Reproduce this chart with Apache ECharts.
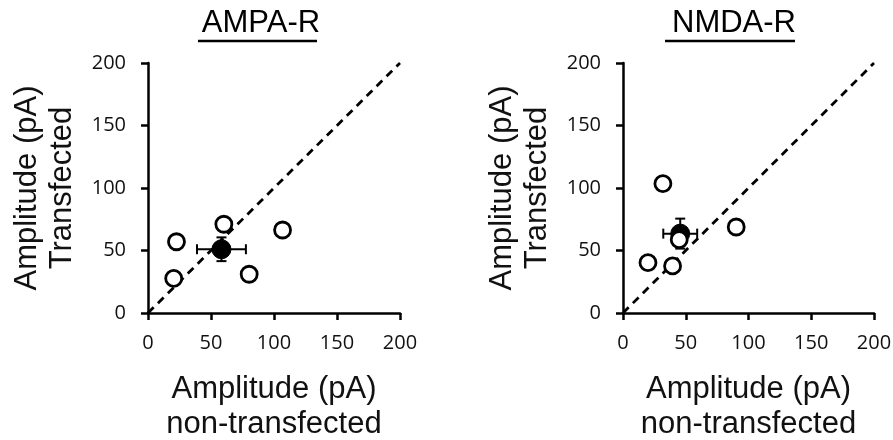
<!DOCTYPE html>
<html><head><meta charset="utf-8">
<script src="https://cdn.jsdelivr.net/npm/echarts@6/dist/echarts.min.js"></script>
<style>html,body{margin:0;padding:0;background:#fff}#c{width:893px;height:440px}</style>
</head><body><div id="c"></div>
<script>
// Data
const titles = ['AMPA-R', 'NMDA-R'];
const ampaPoints = [[22.6, 57], [20.4, 27.7], [60.2, 71], [106.8, 66.4], [80.3, 31]];
const ampaMean = [58.3, 51];
const ampaErr = [19.4, 9.5];
const nmdaPoints = [[31.8, 103.5], [19.9, 40.3], [39.5, 37.7], [44.8, 58.7], [90.2, 68.8]];
const nmdaMean = [45.6, 63.5];
const nmdaErr = [13.5, 12];
const identityLine = [[0, 0], [200, 200]];
const xName = 'Amplitude (pA)\nnon-transfected';
const yName = 'Amplitude (pA)\nTransfected';

const chart = echarts.init(document.getElementById('c'));
const tickFont = '"Open Sans", Lato, sans-serif';
const nameFont = '"Liberation Sans", Arial, sans-serif';

function xAxis(gi) {
  return {
    gridIndex: gi, type: 'value', min: 0, max: 200, interval: 50,
    name: xName, nameLocation: 'middle', nameGap: 59,
    nameTextStyle: {fontFamily: nameFont, fontSize: 31, color: '#111', lineHeight: 35},
    axisLine: {show: true, lineStyle: {color: '#000', width: 2.5}},
    axisTick: {show: true, inside: false, length: 7, lineStyle: {color: '#000', width: 2.5}},
    axisLabel: {fontFamily: tickFont, fontSize: 20, color: '#111', margin: 20},
    splitLine: {show: false}
  };
}
function yAxis(gi) {
  return {
    gridIndex: gi, type: 'value', min: 0, max: 200, interval: 50,
    name: yName, nameLocation: 'middle', nameGap: 68, nameRotate: 90,
    nameTextStyle: {fontFamily: nameFont, fontSize: 31, color: '#111', lineHeight: 35},
    axisLine: {show: true, lineStyle: {color: '#000', width: 2.5}},
    axisTick: {show: true, inside: false, length: 7, lineStyle: {color: '#000', width: 2.5}},
    axisLabel: {fontFamily: tickFont, fontSize: 20, color: '#111', margin: 22},
    splitLine: {show: false}
  };
}

function errSeries(gi, mean, err) {
  return {
    type: 'custom', xAxisIndex: gi, yAxisIndex: gi, z: 6,
    data: [[mean[0], mean[1], err[0], err[1]]],
    renderItem: function (params, api) {
      const x = api.value(0), y = api.value(1), ex = api.value(2), ey = api.value(3);
      const l = api.coord([x - ex, y]), r = api.coord([x + ex, y]);
      const t = api.coord([x, y + ey]), b = api.coord([x, y - ey]);
      const c = 5;
      const st = {stroke: '#000', lineWidth: 2};
      return {type: 'group', children: [
        {type: 'line', shape: {x1: l[0], y1: l[1], x2: r[0], y2: r[1]}, style: st},
        {type: 'line', shape: {x1: l[0], y1: l[1] - c, x2: l[0], y2: l[1] + c}, style: st},
        {type: 'line', shape: {x1: r[0], y1: r[1] - c, x2: r[0], y2: r[1] + c}, style: st},
        {type: 'line', shape: {x1: t[0], y1: t[1], x2: b[0], y2: b[1]}, style: st},
        {type: 'line', shape: {x1: t[0] - c, y1: t[1], x2: t[0] + c, y2: t[1]}, style: st},
        {type: 'line', shape: {x1: b[0] - c, y1: b[1], x2: b[0] + c, y2: b[1]}, style: st}
      ]};
    }
  };
}

function panelSeries(gi, pts, mean, err) {
  return [
    {type: 'line', xAxisIndex: gi, yAxisIndex: gi, data: identityLine, symbol: 'none', z: 1,
     lineStyle: {color: '#000', width: 2.8, type: [8, 6]}, silent: true},
    {type: 'scatter', xAxisIndex: gi, yAxisIndex: gi, data: [mean], symbol: 'circle', symbolSize: 19, z: 5,
     itemStyle: {color: '#000', borderColor: '#000', borderWidth: 1, opacity: 1}},
    errSeries(gi, mean, err),
    {type: 'scatter', xAxisIndex: gi, yAxisIndex: gi, data: pts, symbol: 'circle', symbolSize: 16, z: 7,
     itemStyle: {color: '#fff', borderColor: '#000', borderWidth: 2.8, opacity: 1}}
  ];
}

const titleStyle = {fontFamily: '"Liberation Sans", Arial, sans-serif', fontSize: 31, fontWeight: 'normal', color: '#000'};
chart.setOption({
  backgroundColor: '#fff',
  animation: false,
  title: [
    {text: titles[0], left: 256, top: 3, textAlign: 'center', textStyle: titleStyle},
    {text: titles[1], left: 729, top: 3, textAlign: 'center', textStyle: titleStyle}
  ],
  graphic: [
    {type: 'line', shape: {x1: 198, y1: 41, x2: 317, y2: 41}, style: {stroke: '#000', lineWidth: 2.5}},
    {type: 'line', shape: {x1: 665, y1: 41, x2: 795, y2: 41}, style: {stroke: '#000', lineWidth: 2.5}}
  ],
  grid: [
    {left: 148, top: 63, width: 252, height: 250, containLabel: false, outerBoundsMode: 'none'},
    {left: 623, top: 63, width: 251, height: 250, containLabel: false, outerBoundsMode: 'none'}
  ],
  xAxis: [xAxis(0), xAxis(1)],
  yAxis: [yAxis(0), yAxis(1)],
  series: [].concat(panelSeries(0, ampaPoints, ampaMean, ampaErr), panelSeries(1, nmdaPoints, nmdaMean, nmdaErr))
});
</script></body></html>
